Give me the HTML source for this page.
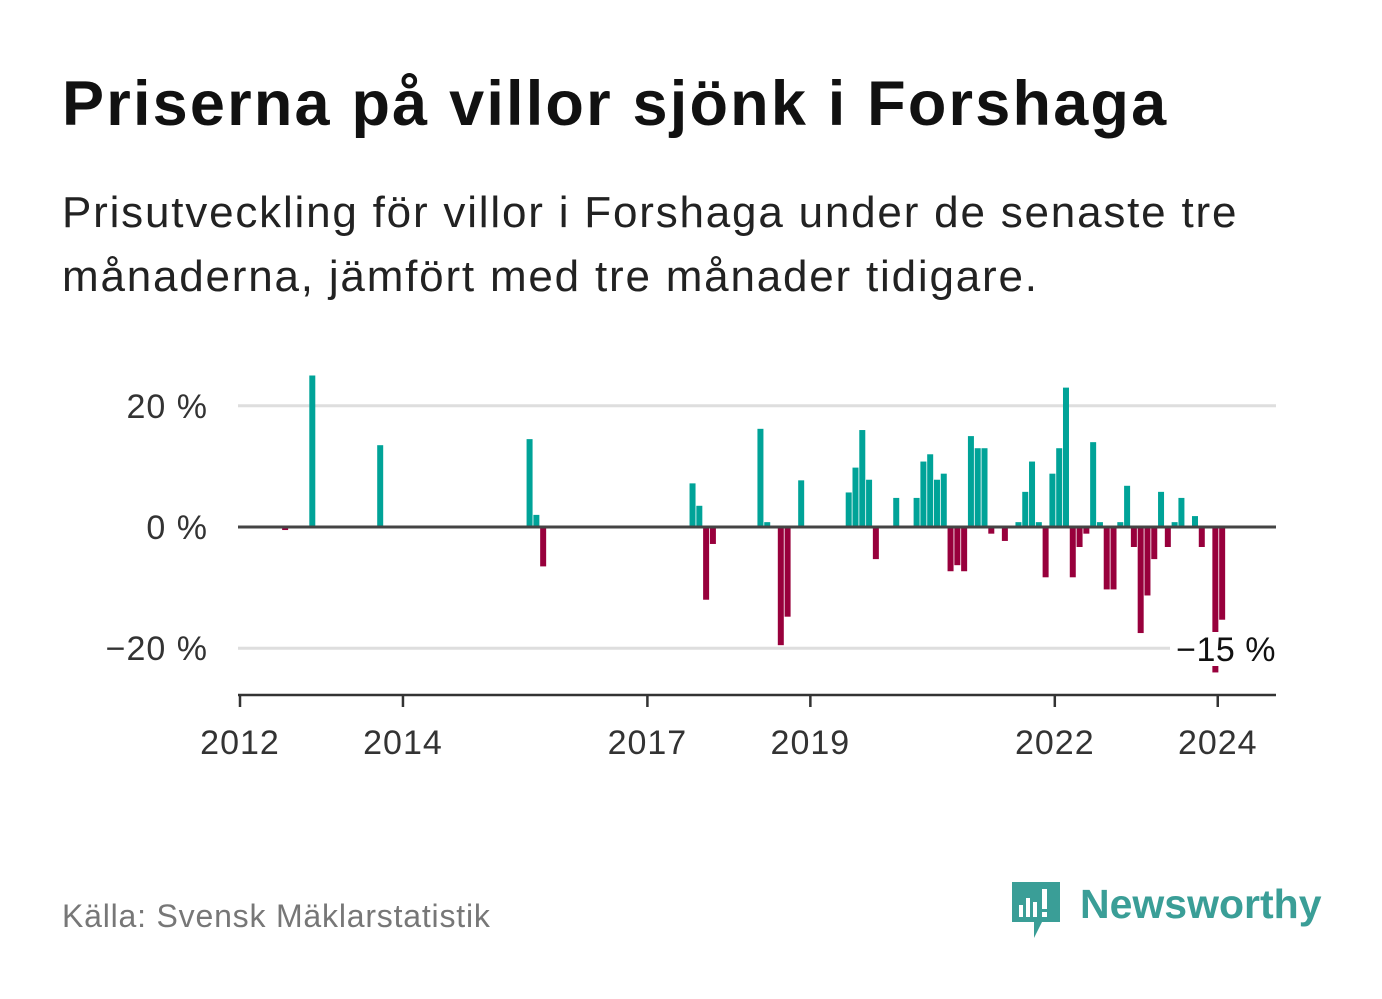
<!DOCTYPE html>
<html><head><meta charset="utf-8"><style>
body{margin:0;background:#fff;width:1382px;height:999px;overflow:hidden;font-family:"Liberation Sans",sans-serif}
.t{position:absolute;left:62px;top:68px;font-size:63px;font-weight:bold;color:#111;letter-spacing:2.2px;margin:0;white-space:nowrap}
.s{position:absolute;left:62px;top:181px;font-size:44px;line-height:64px;color:#222;width:1230px;margin:0;letter-spacing:1.8px}
.f{position:absolute;left:62px;top:898px;font-size:32px;color:#777;letter-spacing:0.8px}
</style></head><body>
<h1 class="t">Priserna på villor sjönk i Forshaga</h1>
<p class="s">Prisutveckling för villor i Forshaga under de senaste tre månaderna, jämfört med tre månader tidigare.</p>
<div class="f">Källa: Svensk Mäklarstatistik</div>
<svg width="1382" height="999" style="position:absolute;left:0;top:0" id="chart">
<g>
<path d="M1012 882h48v40h-18l-8 16v-16h-22z" fill="#3a9e97"/>
<rect x="1019" y="905" width="4" height="12" fill="#fff"/><rect x="1026" y="898" width="4" height="19" fill="#fff"/><rect x="1033" y="902" width="4" height="15" fill="#fff"/><rect x="1042" y="889" width="5" height="20" fill="#fff"/><rect x="1042" y="912" width="5" height="5" fill="#fff"/>
<text x="1080" y="918" font-size="41" font-weight="bold" fill="#3a9e97" font-family="Liberation Sans, sans-serif">Newsworthy</text>
</g>
</svg>
<script>
const months=[6,10,20,42,43,44,66,67,68,69,76,77,79,80,82,89,90,91,92,93,96,99,100,101,102,103,104,105,106,107,108,109,110,112,114,115,116,117,118,119,120,121,122,123,124,125,126,127,128,129,130,131,132,133,134,135,136,137,138,140,141,143,144];
const values=[-0.5,25,13.5,14.5,2,-6.5,7.2,3.5,-12,-2.8,16.2,0.8,-19.5,-14.8,7.7,5.7,9.8,16,7.8,-5.3,4.8,4.8,10.8,12,7.8,8.8,-7.3,-6.3,-7.3,15,13,13,-1.1,-2.3,0.8,5.8,10.8,0.8,-8.3,8.8,13,23,-8.3,-3.3,-1.1,14,0.8,-10.3,-10.3,0.8,6.8,-3.3,-17.5,-11.3,-5.3,5.8,-3.3,0.8,4.8,1.8,-3.3,-24,-15.3];
const yTicks=[20,0,-20];
const yTickLabels=["20 %","0 %","\u221220 %"];
const xTickMonths=[0,24,60,84,120,144];
const xTickLabels=["2012","2014","2017","2019","2022","2024"];
const lastLabel="\u221215 %";
const NS="http://www.w3.org/2000/svg";
const svg=document.getElementById('chart');
const X=m=>240+m*6.79;
const Y=v=>527-v*6.06;
function mk(tag,attrs,parent){const e=document.createElementNS(NS,tag);for(const k in attrs)e.setAttribute(k,attrs[k]);(parent||svg).appendChild(e);return e;}
yTicks.forEach((v,i)=>{
  if(v!==0){const g=mk('line',{x1:238,x2:1276,y1:Y(v),y2:Y(v),stroke:'#dedede','stroke-width':3});
  
  }
  const t=mk('text',{x:208,y:Y(v)+12,'text-anchor':'end','font-size':34,'letter-spacing':1,fill:'#333','font-family':'Liberation Sans, sans-serif'});
  t.textContent=yTickLabels[i];
  
  
});
months.forEach((m,i)=>{
  const v=values[i];
  const r=mk('rect',{x:X(m+0.5)+1-3,y:Math.min(Y(v),Y(0)),width:6,height:Math.abs(Y(v)-Y(0)),fill:v>=0?'#00a398':'#98003c'});
  
  
});
const z=mk('line',{x1:238,x2:1276,y1:Y(0),y2:Y(0),stroke:'#444','stroke-width':3});


const ax=mk('line',{x1:238,x2:1276,y1:695,y2:695,stroke:'#333','stroke-width':2.5});


xTickMonths.forEach((m,i)=>{
  const tk=mk('line',{x1:X(m),x2:X(m),y1:695,y2:707,stroke:'#333','stroke-width':2.5});
  
  
  const t=mk('text',{x:X(m),y:754,'text-anchor':'middle','font-size':34,'letter-spacing':1,fill:'#333','font-family':'Liberation Sans, sans-serif'});
  t.textContent=xTickLabels[i];
  
  
});
const bg=mk('rect',{x:1170,y:632,width:106,height:34,fill:'#fff'});


const lt=mk('text',{x:1276,y:661,'text-anchor':'end','font-size':34,'letter-spacing':0.5,fill:'#111','font-family':'Liberation Sans, sans-serif'});
lt.textContent=lastLabel;


</script>
</body></html>
